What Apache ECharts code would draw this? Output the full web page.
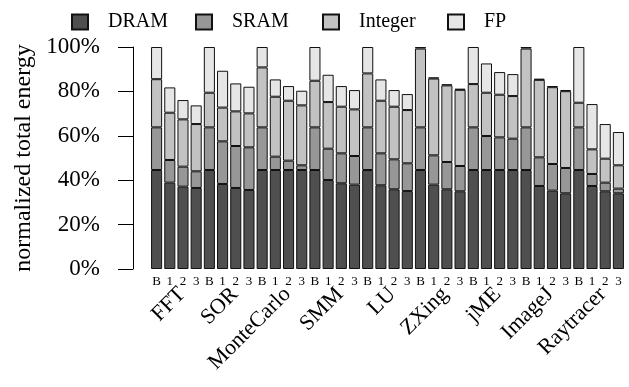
<!DOCTYPE html>
<html>
<head>
	<meta charset="utf-8">
	<title>normalized total energy</title>
</head>
<body style="margin:0">
<script src="https://cdn.jsdelivr.net/npm/echarts@6/dist/echarts.min.js"></script>
<div id="container" style="width: 629px;height: 387px;"></div>
<script type="text/javascript">
	// benchmarks and configurations
	var benchmarks = ['FFT', 'SOR', 'MonteCarlo', 'SMM', 'LU', 'ZXing', 'jME', 'ImageJ', 'Raytracer'];
	var configs = ['B', '1', '2', '3'];
	var parts = ['DRAM', 'SRAM', 'Integer', 'FP'];
	var yTicks = [0, 20, 40, 60, 80, 100];

	// energy parts in %, order: FFT B123, SOR B123, ...
	var dram = [44.6, 38.9, 37.1, 36.5, 44.6, 38.3, 36.5, 35.6, 44.6, 44.6, 44.6, 44.6,
		44.6, 40.1, 38.6, 38.0, 44.6, 37.7, 35.9, 35.1, 44.6, 38.0, 35.9, 35.0,
		44.6, 44.6, 44.6, 44.6, 44.6, 37.4, 35.3, 34.1, 44.6, 37.4, 35.0, 34.1];
	var sram = [19.2, 10.2, 9.0, 7.5, 19.2, 19.2, 18.9, 19.2, 19.2, 6.0, 4.2, 2.1,
		19.2, 14.1, 13.5, 12.9, 19.2, 14.4, 13.5, 12.5, 19.2, 13.2, 12.3, 11.4,
		19.2, 15.3, 14.7, 14.1, 19.2, 12.9, 12.0, 11.4, 19.2, 5.4, 3.9, 2.1];
	var integer = [21.7, 21.3, 21.3, 21.3, 15.6, 15.2, 15.6, 15.3, 27.0, 27.0, 27.0, 27.0,
		21.0, 21.0, 21.0, 21.0, 24.3, 23.7, 23.7, 24.0, 35.5, 34.6, 34.5, 34.3,
		19.5, 19.5, 19.2, 19.2, 35.5, 34.9, 34.6, 34.6, 11.1, 11.1, 10.8, 10.5];
	var fp = [14.5, 11.4, 8.7, 8.4, 20.6, 16.6, 12.6, 12.0, 9.2, 7.8, 6.6, 6.6,
		15.2, 12.3, 9.3, 8.7, 11.9, 9.6, 7.5, 7.2, 0.7, 0.5, 0.5, 0.5,
		16.7, 13.2, 10.2, 9.9, 0.7, 0.5, 0.5, 0.5, 25.1, 20.4, 15.6, 15.0];

	// 36 bar slots, unique names so the category axis keeps them all
	var slots = [];
	for (var b = 0; b < benchmarks.length; b++) {
		for (var c = 0; c < configs.length; c++) {
			slots.push(benchmarks[b] + '-' + configs[c]);
		}
	}

	var serif = 'Liberation Serif';
	function part(name, values, color) {
		return {
			name: name,
			type: 'bar',
			stack: 'energy',
			data: values,
			barCategoryGap: '16%',
			itemStyle: {color: color, borderColor: '#111', borderWidth: 1},
			emphasis: {disabled: true}
		};
	}

	// one legend per item so the spacing is fixed like in the figure
	var legendLeft = [66, 190, 317, 442];
	var legends = [];
	for (var k = 0; k < parts.length; k++) {
		legends.push({
			data: [parts[k]],
			left: legendLeft[k],
			top: 7,
			itemWidth: 16,
			itemHeight: 15,
			icon: 'rect',
			selectedMode: false,
			textStyle: {fontFamily: serif, fontSize: 20, color: '#000', padding: [0, 0, 0, 15]}
		});
	}

	var myChart = echarts.init(document.getElementById('container'));
	var option = {
		animation: false,
		legend: legends,
		grid: [
			{left: 150, right: 4, top: 47, bottom: 118},
			// same plot, nudged right, only carries the benchmark names
			{left: 156, right: -2, top: 47, bottom: 118}
		],
		xAxis: [
			{
				type: 'category',
				data: slots,
				axisLine: {show: false},
				axisTick: {show: false},
				axisLabel: {
					interval: 0,
					margin: 6,
					fontFamily: serif,
					fontSize: 13,
					color: '#000',
					formatter: function (v) { return v.split('-')[1]; }
				}
			},
			{
				type: 'category',
				gridIndex: 1,
				data: benchmarks,
				position: 'bottom',
				axisLine: {show: false},
				axisTick: {show: false},
				axisLabel: {interval: 0, rotate: 45, margin: 22, fontFamily: serif, fontSize: 22, color: '#000'}
			}
		],
		yAxis: [
			{
				type: 'value',
				min: yTicks[0],
				max: yTicks[yTicks.length - 1],
				interval: 20,
				offset: 17,
				name: 'normalized total energy',
				nameLocation: 'middle',
				nameGap: 97,
				nameTextStyle: {fontFamily: serif, fontSize: 24, color: '#000'},
				axisLine: {show: true, lineStyle: {color: '#000', width: 1}},
				axisTick: {show: true, length: 15, lineStyle: {color: '#000'}},
				splitLine: {show: false},
				axisLabel: {margin: 33, fontFamily: serif, fontSize: 23, color: '#000', formatter: '{value}%'}
			},
			{
				type: 'value',
				gridIndex: 1,
				show: false
			}
		],
		series: [
			part('DRAM', dram, '#4f4f4f'),
			part('SRAM', sram, '#979797'),
			part('Integer', integer, '#c2c2c2'),
			part('FP', fp, '#e6e6e6')
		]
	};
	myChart.setOption(option);
</script>
</body>
</html>
